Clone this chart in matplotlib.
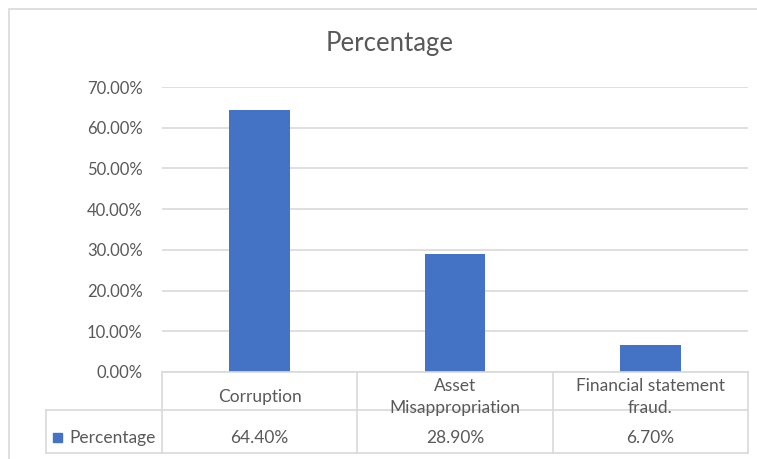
import matplotlib.pyplot as plt
from matplotlib.patches import Rectangle
from matplotlib.lines import Line2D

plt.rcParams['font.family'] = ['Lato', 'DejaVu Sans']

categories = ["Corruption", "Asset\nMisappropriation", "Financial statement\nfraud."]
values = [0.644, 0.289, 0.067]
series_name = "Percentage"

W, H = 757, 459
BLUE = "#4472C4"
GRID = "#d9d9d9"
TEXT = "#595959"

fig = plt.figure(figsize=(W / 100, H / 100), dpi=100)

# chart outer border
fig.patches.append(Rectangle((9 / W, -0.05), 1.1, (H - 9) / H + 0.05, transform=fig.transFigure,
                             fill=False, edgecolor=GRID, linewidth=1.2))

left, right, top, bottom = 162, 748, 87, 372
ax = fig.add_axes([left / W, (H - bottom) / H, (right - left) / W, (bottom - top) / H])
x = list(range(len(categories)))
ax.bar(x, values, width=0.31, color=BLUE, zorder=3)
ax.set_xlim(-0.5, len(categories) - 0.5)
ax.set_ylim(0, 0.7)
ax.set_yticks([i / 10 for i in range(8)])
ax.set_yticklabels(["%.2f%%" % (i * 10) for i in range(8)], fontsize=12, color=TEXT)
ax.set_xticks([])
ax.tick_params(axis="y", length=0, pad=14)
ax.grid(axis="y", color=GRID, linewidth=1.2, zorder=0)
for s in ax.spines.values():
    s.set_visible(False)

# data table beneath the plot
tab_bottom, mid = 453, 410
tax = fig.add_axes([left / W, (H - tab_bottom) / H, (right - left) / W, (tab_bottom - bottom) / H])
tax.set_xlim(-0.5, len(categories) - 0.5)
tax.set_ylim(tab_bottom, bottom)  # pixel rows, top to bottom
tax.axis("off")
col_w = (right - left) / len(categories)
x_leg = -0.5 - (left - 46) / col_w
lw = 1.2
tax.add_line(Line2D([-0.5, 2.5], [bottom] * 2, color=GRID, lw=lw, clip_on=False))
tax.add_line(Line2D([x_leg, 2.5], [mid] * 2, color=GRID, lw=lw, clip_on=False))
tax.add_line(Line2D([x_leg, 2.5], [tab_bottom] * 2, color=GRID, lw=lw, clip_on=False))
tax.add_line(Line2D([x_leg, x_leg], [mid, tab_bottom], color=GRID, lw=lw, clip_on=False))
for i in range(len(categories) + 1):
    tax.add_line(Line2D([i - 0.5] * 2, [bottom, tab_bottom], color=GRID, lw=lw, clip_on=False))

for i, (c, v) in enumerate(zip(categories, values)):
    tax.text(i, 397, c, ha="center", va="center", fontsize=12.5, color=TEXT, linespacing=1.45)
    tax.text(i, 438, "%.2f%%" % (v * 100), ha="center", va="center", fontsize=12.5, color=TEXT)

fig.patches.append(Rectangle((53 / W, (H - 442) / H), 9 / W, 9 / H, transform=fig.transFigure,
                             color=BLUE))
fig.text(69 / W, (H - 438) / H, series_name, ha="left", va="center", fontsize=12.5, color=TEXT)

fig.text(390 / W, (H - 44) / H, series_name, ha="center", va="center",
         fontsize=18.5, color=TEXT)

fig.savefig("out.png", dpi=100)
